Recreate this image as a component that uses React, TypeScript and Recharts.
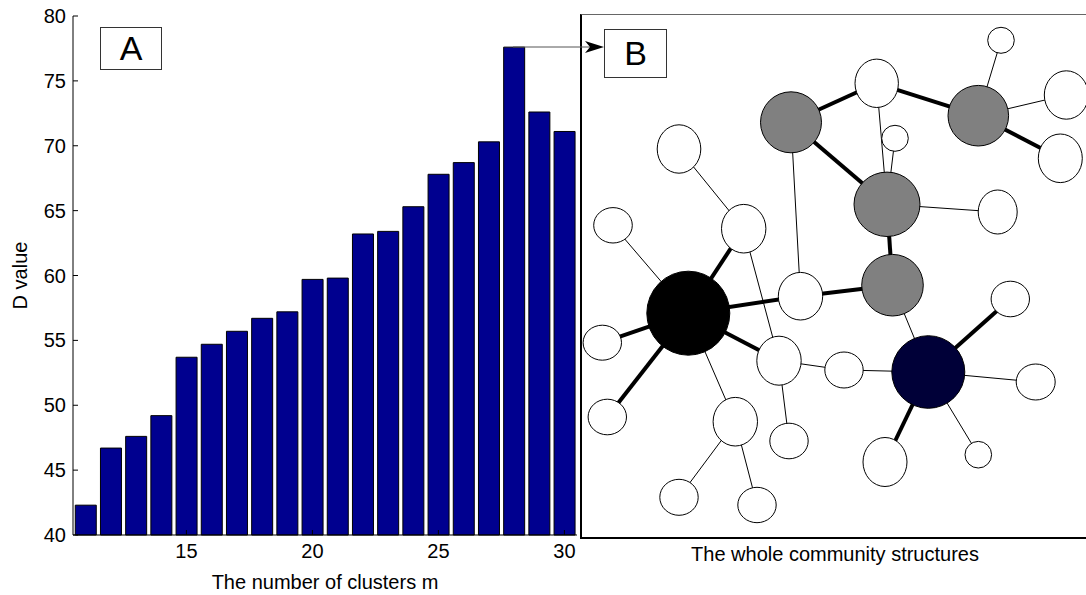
import React from 'react';
import { BarChart, Bar, XAxis, YAxis, ScatterChart, Scatter } from 'recharts';

// Panel A: D value per number of clusters m
const clusterCounts = [11, 12, 13, 14, 15, 16, 17, 18, 19, 20, 21, 22, 23, 24, 25, 26, 27, 28, 29, 30];
const dValues = [42.3, 46.7, 47.6, 49.2, 53.7, 54.7, 55.7, 56.7, 57.2, 59.7, 59.8, 63.2, 63.4, 65.3, 67.8, 68.7, 70.3, 77.6, 72.6, 71.1];
const yTicks = [40, 45, 50, 55, 60, 65, 70, 75, 80];
const xTicks = [15, 20, 25, 30];

// Panel B: community network layout (layout units)
const nodeX = [210, 295.7, 397.3, 420, 485.3, 479.3, 314, 306, 416.7, 98, 32, 162.7, 311.5, 219.5, 107.3, 429.3, 21.3, 198, 263, 347.3, 454.7, 26.3, 154.3, 208, 304, 397.3, 98, 176];
const nodeY = [107.3, 68.3, 100.7, 25.3, 80, 143.3, 123.3, 189.3, 197, 134, 210.3, 213.7, 270.2, 281.2, 298.2, 284, 327.7, 345.7, 355, 357, 367, 402, 406.7, 426, 447, 439.7, 482.3, 490];
const nodeRx = [30.5, 21.7, 30.3, 13.3, 22, 22, 13.3, 33, 19.5, 21.8, 19.3, 22.2, 30.8, 22.2, 41.5, 19.2, 19.2, 22.2, 19.2, 36.5, 19.5, 19.2, 22.2, 19.2, 22, 13.3, 19.2, 19.2];
const nodeRy = [30.5, 24.2, 30.3, 13, 24.2, 24.3, 13, 32.2, 22, 24.2, 17.7, 24.3, 30.8, 23.8, 42, 17.8, 17.5, 24.5, 18, 36.3, 18, 17.8, 24.3, 17.8, 24.5, 13.3, 18, 17.7];
const nodeGroup = ['hub', 'leaf', 'hub', 'leaf', 'leaf', 'leaf', 'leaf', 'hub', 'leaf', 'leaf', 'leaf', 'leaf', 'hub', 'leaf', 'core', 'leaf', 'leaf', 'leaf', 'leaf', 'center', 'leaf', 'leaf', 'leaf', 'leaf', 'leaf', 'leaf', 'leaf', 'leaf'];

const edgeFrom = [1, 2, 3, 1, 8, 13, 14, 15, 15, 15, 15, 20, 20, 3, 3, 7, 2, 1, 8, 10, 11, 12, 15, 23, 23, 18, 18, 19, 13, 20, 20];
const edgeTo = [2, 3, 6, 8, 13, 14, 15, 12, 17, 22, 18, 16, 25, 4, 5, 8, 8, 14, 9, 12, 15, 18, 23, 27, 28, 19, 24, 20, 20, 21, 26];
const edgeStrong = [1, 1, 1, 1, 1, 1, 1, 1, 1, 1, 1, 1, 1, 0, 0, 0, 0, 0, 0, 0, 0, 0, 0, 0, 0, 0, 0, 0, 0, 0, 0];

const groupFill: Record<string, string> = { hub: '#808080', leaf: '#ffffff', core: '#000000', center: '#000038' };

const barData = clusterCounts.map((m, i) => ({ m, d: dValues[i] }));
const nodes = nodeX.map((x, i) => ({ x, y: nodeY[i], rx: nodeRx[i], ry: nodeRy[i], group: nodeGroup[i] }));
const edges = edgeFrom.map((f, i) => ({
  data: [
    { x: nodeX[f - 1], y: nodeY[f - 1] },
    { x: nodeX[edgeTo[i] - 1], y: nodeY[edgeTo[i] - 1] },
  ],
  strong: edgeStrong[i] === 1,
}));

const FONT = '"Liberation Sans", Arial, sans-serif';
const FS = 20;

const NodeShape = (props: any) => {
  const { cx, cy, payload } = props;
  return (
    <ellipse cx={cx} cy={cy} rx={payload.rx} ry={payload.ry} fill={groupFill[payload.group]} stroke="#000" strokeWidth={1} />
  );
};

const Empty = () => <g />;

const YLabel = (props: any) => {
  const vb = props.viewBox || { x: 0, y: 0, width: 0, height: 0 };
  const x = vb.x + 20;
  const y = vb.y + vb.height / 2;
  return (
    <text x={x} y={y} transform={`rotate(-90 ${x} ${y})`} textAnchor="middle" dominantBaseline="central" fontSize={FS} fill="#000" fontFamily={FONT}>
      D value
    </text>
  );
};

export default function App() {
  return (
    <div style={{ position: 'absolute', left: 0, top: 0, width: 1086, height: 595, overflow: 'hidden', background: '#fff', fontFamily: FONT }}>
      {/* Panel B frame */}
      <div style={{ position: 'absolute', left: 580, top: 14, width: 520, height: 522, borderLeft: '2px solid #000', borderTop: '1px solid #666', borderBottom: '2px solid #000' }} />

      <div style={{ position: 'absolute', left: 581, top: 15 }}>
        <ScatterChart width={508} height={580} margin={{ top: 0, right: 0, bottom: 0, left: 0 }}>
          <XAxis
            type="number"
            dataKey="x"
            domain={[0, 508]}
            height={58}
            tick={false}
            tickLine={false}
            axisLine={false}
            label={{ value: 'The whole community structures', position: 'insideTop', offset: 10, fontSize: FS, fill: '#000' }}
          />
          <YAxis type="number" dataKey="y" domain={[0, 522]} reversed hide />
          {edges.map((e, i) => (
            <Scatter
              key={'e' + i}
              data={e.data}
              line={{ stroke: '#000', strokeWidth: e.strong ? 4 : 1 }}
              shape={Empty}
              isAnimationActive={false}
              legendType="none"
            />
          ))}
          <Scatter data={nodes} shape={NodeShape} isAnimationActive={false} legendType="none" />
        </ScatterChart>
      </div>

      <div style={{ position: 'absolute', left: 0, top: 0 }}>
        <BarChart width={600} height={595} data={barData} margin={{ top: 16, right: 23, left: 0, bottom: 0 }} barCategoryGap="9%">
          <XAxis
            dataKey="m"
            type="category"
            ticks={xTicks}
            interval={0}
            tickSize={-5}
            tickMargin={14}
            height={60}
            axisLine={{ stroke: '#000' }}
            tickLine={{ stroke: '#000' }}
            tick={{ fontSize: FS, fill: '#000' }}
            label={{ value: 'The number of clusters m', position: 'insideBottom', offset: 6, fontSize: FS, fill: '#000' }}
          />
          <XAxis
            xAxisId="top"
            orientation="top"
            dataKey="m"
            type="category"
            ticks={xTicks}
            interval={0}
            tickSize={-5}
            height={0}
            axisLine={{ stroke: '#000' }}
            tickLine={{ stroke: '#000' }}
            tickFormatter={() => ''}
          />
          <YAxis
            type="number"
            domain={[40, 80]}
            ticks={yTicks}
            interval={0}
            tickSize={-5}
            tickMargin={12}
            width={73}
            axisLine={{ stroke: '#000' }}
            tickLine={{ stroke: '#000' }}
            tick={{ fontSize: FS, fill: '#000' }}
            label={<YLabel />}
          />
          <YAxis
            yAxisId="right"
            orientation="right"
            type="number"
            domain={[40, 80]}
            ticks={yTicks}
            interval={0}
            tickSize={-5}
            width={0}
            axisLine={{ stroke: '#000' }}
            tickLine={{ stroke: '#000' }}
            tickFormatter={() => ''}
          />
          <Bar dataKey="d" fill="#00008F" stroke="#000" strokeWidth={1} isAnimationActive={false} />
        </BarChart>
      </div>

      {/* Annotation boxes */}
      <div style={{ position: 'absolute', left: 100, top: 27, width: 62, height: 43, border: '1px solid #333', boxSizing: 'border-box', display: 'flex', alignItems: 'center', justifyContent: 'center', fontSize: 34, color: '#000', background: '#fff' }}>A</div>
      <div style={{ position: 'absolute', left: 604, top: 29, width: 63, height: 49, border: '1px solid #333', boxSizing: 'border-box', display: 'flex', alignItems: 'center', justifyContent: 'center', fontSize: 34, color: '#000', background: '#fff' }}>B</div>

      {/* Arrow from the peak bar to panel B */}
      <svg width={1086} height={595} style={{ position: 'absolute', left: 0, top: 0, pointerEvents: 'none' }}>
        <line x1={513} y1={47} x2={592} y2={47} stroke="#555" strokeWidth={1} />
        <polygon points="604,47 585,41 590,47 585,53" fill="#000" />
      </svg>
    </div>
  );
}
